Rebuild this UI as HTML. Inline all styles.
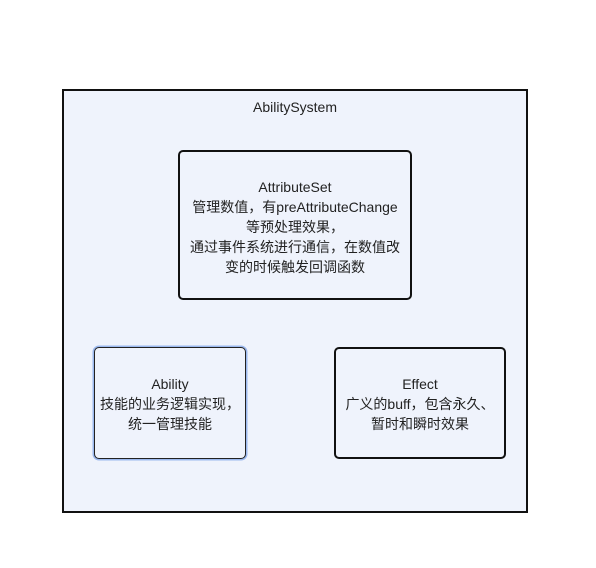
<!DOCTYPE html>
<html><head><meta charset="utf-8"><style>
html,body{margin:0;padding:0;background:#fff;width:596px;height:568px;overflow:hidden}
body{position:relative;font-family:"Liberation Sans","Noto Sans CJK SC",sans-serif;color:#222;font-size:14px}
.b{position:absolute;box-sizing:border-box;background:#eff3fc;border:2px solid #111}
.t{position:absolute;left:0;right:0;text-align:center;line-height:20px;white-space:nowrap}
</style></head><body>
<div class="b" style="left:62px;top:89px;width:466px;height:424px;border-radius:0"></div>
<div class="t" style="top:97px;left:63px;width:464px;right:auto">AbilitySystem</div>
<div class="b" style="left:178px;top:150px;width:234px;height:150px;border-radius:5px"></div>
<div class="t" style="top:177px;left:178px;width:234px;right:auto">AttributeSet<br>管理数值，有preAttributeChange<br>等预处理效果，<br>通过事件系统进行通信，在数值改<br>变的时候触发回调函数</div>
<div class="b" style="left:94px;top:347px;width:152px;height:112px;border-radius:5px;border:1.5px solid #222;box-shadow:0 0 0 1.5px #9bb8ee"></div>
<div class="t" style="top:374px;left:94px;width:152px;right:auto">Ability<br>技能的业务逻辑实现，<br>统一管理技能</div>
<div class="b" style="left:334px;top:347px;width:172px;height:112px;border-radius:5px"></div>
<div class="t" style="top:374px;left:334px;width:172px;right:auto">Effect<br>广义的buff，包含永久、<br>暂时和瞬时效果</div>
</body></html>
